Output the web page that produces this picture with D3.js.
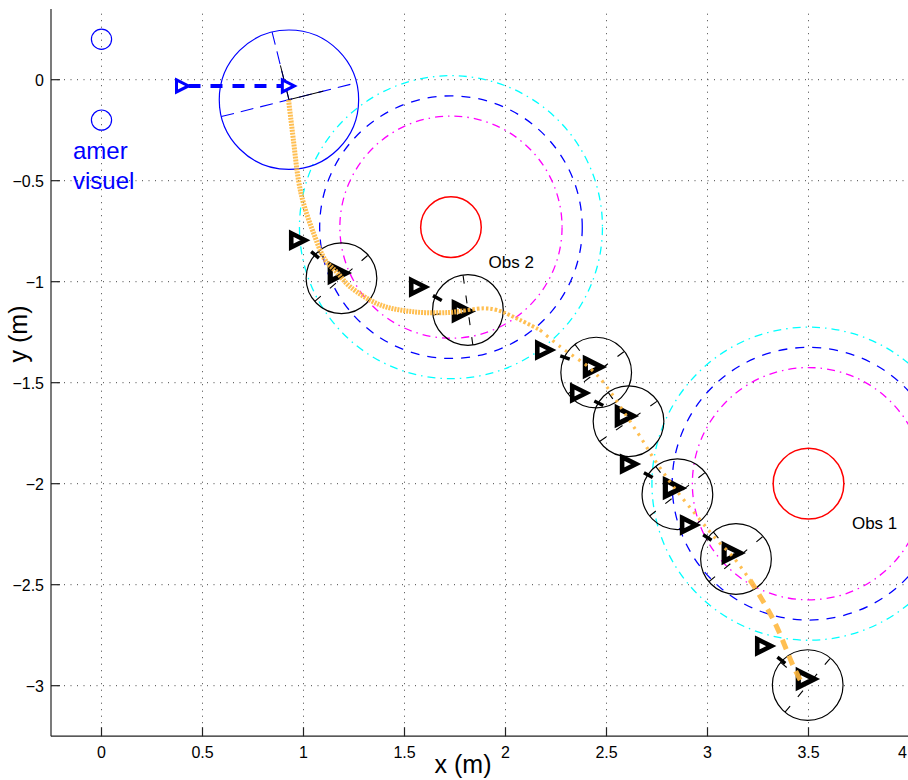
<!DOCTYPE html>
<html><head><meta charset="utf-8">
<script src="https://cdn.jsdelivr.net/npm/d3@7"></script>
<style>html,body{margin:0;padding:0;background:#fff;}svg{display:block;}</style>
</head><body>
<script>
// ---------- data ----------
const xTicks = [0, 0.5, 1, 1.5, 2, 2.5, 3, 3.5, 4];
const yTicks = [0, -0.5, -1, -1.5, -2, -2.5, -3];
const xLabel = "x (m)";
const yLabel = "y (m)";

// visual landmarks ("amer visuel")
const landmarkX = [0, 0];
const landmarkY = [0.2, -0.2];
const landmarkR = 0.05;
const landmarkText = ["amer", "visuel"];

// obstacles
const obstacleNames = ["Obs 1", "Obs 2"];
const obstacleX = [3.5, 1.73];
const obstacleY = [-2.0, -0.73];
const obstacleR = [0.175, 0.15];
const obstacleLabelX = [3.715, 1.916];
const obstacleLabelY = [-2.224, -0.932];
const safetyMargins = [0.4, 0.5, 0.6]; // magenta, blue, cyan

// initial pose (blue)
const startTriX = [0.396, 0.92];
const startTriY = [-0.031, -0.031];
const startCircle = [0.928, -0.099];
const startCircleR = 0.345;
const startAngle = 14;

// robot poses (black)
const poseX = [1.188, 1.814, 2.449, 2.609, 2.851, 3.141, 3.496];
const poseY = [-0.983, -1.140, -1.450, -1.691, -2.052, -2.373, -2.997];
const poseAngle = [41, 98, 37, 35, 38, 40, 50];
const poseR = 0.175;
const prevTriX = [0.969, 1.563, 2.187, 2.360, 2.607, 2.904, 3.276];
const prevTriY = [-0.795, -1.026, -1.338, -1.551, -1.903, -2.204, -2.804];
const curTriX = [1.167, 1.781, 2.430, 2.588, 2.826, 3.117, 3.484];
const curTriY = [-0.957, -1.146, -1.422, -1.665, -2.022, -2.343, -2.967];

// planned trajectory (orange)
const pathX = [0.926, 0.950, 0.975, 1.000, 1.050, 1.107, 1.167, 1.231, 1.380, 1.545, 1.710, 1.792,
               1.891, 1.957, 2.073, 2.172, 2.271, 2.419, 2.494, 2.601, 2.667, 2.733, 2.832,
               2.964, 3.047, 3.127, 3.211, 3.327, 3.426, 3.459];
const pathY = [-0.100, -0.299, -0.497, -0.612, -0.760, -0.892, -0.955, -1.025, -1.115, -1.149, -1.153, -1.144,
               -1.132, -1.140, -1.190, -1.240, -1.322, -1.429, -1.511, -1.668, -1.767, -1.874, -2.015,
               -2.180, -2.279, -2.363, -2.477, -2.675, -2.906, -2.972];
const pathBreaks = [0, 11, 15, 26, 29];

// ---------- drawing ----------
const W = 908, H = 780;
const x = d3.scaleLinear().domain([-0.25, 4]).range([51, 909.5]);
const y = d3.scaleLinear().domain([-3.25, 0.35]).range([736.2, 9]);
const px = d => x(d) - x(0);

const svg = d3.select("body").append("svg").attr("width", W).attr("height", H)
  .style("font-family", "'Liberation Sans', Arial, Helvetica, sans-serif");

svg.append("defs").append("clipPath").attr("id", "clip")
  .append("rect").attr("x", x(-0.25)).attr("y", y(0.35)).attr("width", x(4) - x(-0.25) + 2).attr("height", y(-3.25) - y(0.35));

// grid
const grid = svg.append("g");
grid.selectAll(".gx").data(xTicks).join("line")
  .attr("x1", d => x(d)).attr("x2", d => x(d)).attr("y1", y(-3.25)).attr("y2", y(0.35))
  .attr("stroke", "#444").attr("stroke-width", 1).attr("stroke-dasharray", "1,5.5");
grid.selectAll(".gy").data(yTicks).join("line")
  .attr("y1", d => y(d)).attr("y2", d => y(d)).attr("x1", x(-0.25)).attr("x2", x(4))
  .attr("stroke", "#444").attr("stroke-width", 1).attr("stroke-dasharray", "1,5.5");

const plot = svg.append("g").attr("clip-path", "url(#clip)");

// safety rings
const ringColors = ["#ff00ff", "#0000ff", "#00ffff"];
const ringDash = ["8,5,1.5,5", "9,8", "8,5,1.5,5"];
obstacleX.forEach((ox, i) => {
  safetyMargins.forEach((m, k) => {
    plot.append("circle").attr("cx", x(ox)).attr("cy", y(obstacleY[i]))
      .attr("r", px(obstacleR[i] + m)).attr("fill", "none")
      .attr("stroke", ringColors[k]).attr("stroke-width", 1.3).attr("stroke-dasharray", ringDash[k]);
  });
});
// obstacles
plot.selectAll(".obs").data(obstacleX).join("circle")
  .attr("cx", d => x(d)).attr("cy", (d, i) => y(obstacleY[i])).attr("r", (d, i) => px(obstacleR[i]))
  .attr("fill", "none").attr("stroke", "#ff0000").attr("stroke-width", 1.5);
plot.selectAll(".obsl").data(obstacleNames).join("text")
  .attr("x", (d, i) => x(obstacleLabelX[i])).attr("y", (d, i) => y(obstacleLabelY[i]))
  .attr("font-size", 17).attr("fill", "#000").text(d => d);

// landmarks
plot.selectAll(".lm").data(landmarkX).join("circle")
  .attr("cx", d => x(d)).attr("cy", (d, i) => y(landmarkY[i])).attr("r", px(landmarkR))
  .attr("fill", "none").attr("stroke", "#0000ff").attr("stroke-width", 1.2);
svg.selectAll(".lmt").data(landmarkText).join("text")
  .attr("x", 73).attr("y", (d, i) => 159 + i * 30)
  .attr("font-size", 24).attr("fill", "#0000ff").text(d => d);

// frame crosses
function cross(cx, cy, r, ang, color, dashD, dashR, w) {
  const t = ang * Math.PI / 180, t2 = t + Math.PI / 2;
  plot.append("line")
    .attr("x1", cx - r * Math.cos(t)).attr("y1", cy + r * Math.sin(t))
    .attr("x2", cx + r * Math.cos(t)).attr("y2", cy - r * Math.sin(t))
    .attr("stroke", color).attr("stroke-width", w).attr("stroke-dasharray", dashD);
  plot.append("line")
    .attr("x1", cx + r * Math.cos(t2)).attr("y1", cy - r * Math.sin(t2))
    .attr("x2", cx).attr("y2", cy)
    .attr("stroke", color).attr("stroke-width", w).attr("stroke-dasharray", dashR);
}

// start circle (blue)
{
  const cx = x(startCircle[0]), cy = y(startCircle[1]), r = px(startCircleR);
  plot.append("circle").attr("cx", cx).attr("cy", cy).attr("r", r)
    .attr("fill", "none").attr("stroke", "#0000ff").attr("stroke-width", 1.2);
  cross(cx, cy, r, startAngle, "#0000ff", "13,7", "13,7", 1.1);
  const rb = px(poseR), t = startAngle * Math.PI / 180, t2 = t + Math.PI / 2;
  plot.append("line").attr("x1", cx).attr("y1", cy)
    .attr("x2", cx + rb * Math.cos(t)).attr("y2", cy - rb * Math.sin(t))
    .attr("stroke", "#000").attr("stroke-width", 1);
  plot.append("line").attr("x1", cx).attr("y1", cy)
    .attr("x2", cx + rb * Math.cos(t2)).attr("y2", cy - rb * Math.sin(t2))
    .attr("stroke", "#000").attr("stroke-width", 1);
}

// pose circles (black)
poseX.forEach((pxv, i) => {
  const cx = x(pxv), cy = y(poseY[i]), r = px(poseR);
  plot.append("circle").attr("cx", cx).attr("cy", cy).attr("r", r)
    .attr("fill", "none").attr("stroke", "#000").attr("stroke-width", 1.2);
  cross(cx, cy, r, poseAngle[i], "#000", "8,12,8,14,8,12,8", "8,12,8,8", 1.1);
});

// black dashed links prev -> current
poseX.forEach((d, i) => {
  plot.append("line")
    .attr("x1", x(prevTriX[i])).attr("y1", y(prevTriY[i]))
    .attr("x2", x(curTriX[i])).attr("y2", y(curTriY[i]))
    .attr("stroke", "#000").attr("stroke-width", 3.5).attr("stroke-dasharray", "0,18,10,80");
});
// blue dashed link
plot.append("line")
  .attr("x1", x(startTriX[0])).attr("y1", y(startTriY[0]))
  .attr("x2", x(startTriX[1])).attr("y2", y(startTriY[1]))
  .attr("stroke", "#0000ff").attr("stroke-width", 4).attr("stroke-dasharray", "12,10").attr("stroke-dashoffset", 15);

// triangles
const triBig = "M-7,-8L9,0L-7,8Z", triMid = "M-6,-7L8,0L-6,7Z", triSmall = "M-5,-6L7,0L-5,6Z";
plot.selectAll(".pt").data(prevTriX).join("path")
  .attr("d", triMid).attr("transform", (d, i) => `translate(${x(d)},${y(prevTriY[i])})`)
  .attr("fill", "#fff").attr("stroke", "#000").attr("stroke-width", 4.6).attr("stroke-linejoin", "miter");
plot.selectAll(".ct").data(curTriX).join("path")
  .attr("d", triBig).attr("transform", (d, i) => `translate(${x(d)},${y(curTriY[i])})`)
  .attr("fill", "#fff").attr("stroke", "#000").attr("stroke-width", 5.2).attr("stroke-linejoin", "miter");
plot.selectAll(".st").data(startTriX).join("path")
  .attr("d", triSmall).attr("transform", (d, i) => `translate(${x(d)},${y(startTriY[i])})`)
  .attr("fill", "#fff").attr("stroke", "#0000ff").attr("stroke-width", 3).attr("stroke-linejoin", "miter");

// orange trajectory
const pts = pathX.map((d, i) => [x(d), y(pathY[i])]);
const line = d3.line().curve(d3.curveCatmullRom);
const segStyles = [
  {w: 5, dash: "2,1"},
  {w: 4, dash: "2.5,2"},
  {w: 3.2, dash: "2.5,5.5"},
  {w: 5, dash: "10,7"}
];
for (let s = 0; s < pathBreaks.length - 1; s++) {
  plot.append("path").attr("d", line(pts.slice(pathBreaks[s], pathBreaks[s + 1] + 1)))
    .attr("fill", "none").attr("stroke", "#ffb83f").attr("stroke-opacity", 0.9)
    .attr("stroke-width", segStyles[s].w).attr("stroke-dasharray", segStyles[s].dash);
}

// axes
const ax = svg.append("g");
ax.append("line").attr("x1", x(-0.25)).attr("x2", x(-0.25)).attr("y1", y(0.35)).attr("y2", y(-3.25))
  .attr("stroke", "#222").attr("stroke-width", 1.2);
ax.append("line").attr("x1", x(-0.25)).attr("x2", W).attr("y1", y(-3.25)).attr("y2", y(-3.25))
  .attr("stroke", "#222").attr("stroke-width", 1.2);
ax.selectAll(".xt").data(xTicks).join("line")
  .attr("x1", d => x(d)).attr("x2", d => x(d)).attr("y1", y(-3.25)).attr("y2", y(-3.25) - 9)
  .attr("stroke", "#222").attr("stroke-width", 1.2);
ax.selectAll(".yt").data(yTicks).join("line")
  .attr("x1", x(-0.25)).attr("x2", x(-0.25) + 9).attr("y1", d => y(d)).attr("y2", d => y(d))
  .attr("stroke", "#222").attr("stroke-width", 1.2);
const fmt = d => (d < 0 ? "\u2212" : "") + String(Math.abs(d));
ax.selectAll(".xl").data(xTicks).join("text")
  .attr("x", d => Math.min(x(d), W - 1)).attr("y", 758)
  .attr("text-anchor", d => x(d) + 5 > W ? "end" : "middle")
  .attr("font-size", 16).attr("fill", "#000").text(fmt);
ax.selectAll(".yl").data(yTicks).join("text")
  .attr("x", 44).attr("y", d => y(d) + 6).attr("text-anchor", "end")
  .attr("font-size", 16).attr("fill", "#000").text(fmt);
ax.append("text").attr("x", 463).attr("y", 773).attr("text-anchor", "middle")
  .attr("font-size", 25).attr("fill", "#000").text(xLabel);
ax.append("text").attr("transform", "translate(27,334) rotate(-90)").attr("text-anchor", "middle")
  .attr("font-size", 25).attr("fill", "#000").text(yLabel);
</script>
</body></html>
